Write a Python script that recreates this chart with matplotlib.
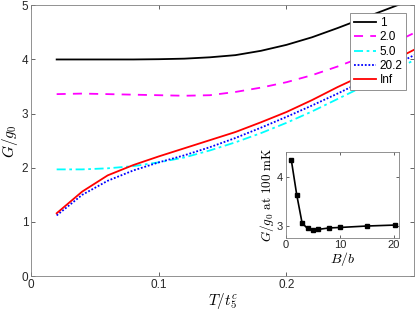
import numpy as np
import matplotlib
matplotlib.use("Agg")
import matplotlib.pyplot as plt

plt.rcParams['font.family'] = ['Liberation Sans', 'DejaVu Sans']
plt.rcParams['mathtext.fontset'] = 'cm'

# temperature grid T/t5c
T = [0.02, 0.04, 0.06, 0.08, 0.10, 0.12, 0.14, 0.16, 0.18, 0.20, 0.22, 0.24, 0.26, 0.28, 0.30]

# G/g0 for each B/b value
g_1 = [4.00, 4.00, 4.00, 4.00, 4.005, 4.015, 4.04, 4.08, 4.16, 4.27, 4.41, 4.58, 4.76, 4.94, 5.12]
g_2 = [3.36, 3.37, 3.36, 3.35, 3.34, 3.33, 3.34, 3.40, 3.48, 3.58, 3.71, 3.87, 4.05, 4.26, 4.49]
g_5 = [1.97, 1.97, 1.99, 2.03, 2.10, 2.19, 2.32, 2.47, 2.64, 2.83, 3.04, 3.27, 3.50, 3.74, 3.99]
g_20 = [1.12, 1.50, 1.76, 1.95, 2.10, 2.23, 2.38, 2.55, 2.74, 2.94, 3.15, 3.37, 3.60, 3.84, 4.08]
g_inf = [1.16, 1.56, 1.86, 2.05, 2.21, 2.36, 2.51, 2.66, 2.84, 3.03, 3.25, 3.49, 3.71, 3.94, 4.18]

labels = ['1', '2.0', '5.0', '20.2', 'Inf']

# inset: G/g0 at 100 mK vs B/b
Bb = [1, 2, 3, 4, 5, 6, 8, 10, 15, 20.2]
g100 = [4.36, 3.64, 3.05, 2.94, 2.91, 2.92, 2.95, 2.96, 2.99, 3.01]

edge = '#262626'

fig = plt.figure(figsize=(4.15, 3.13), dpi=100)
ax = fig.add_axes([0.075, 0.118, 0.923, 0.865])

lw = 1.3
ax.plot(T, g_1, color='black', lw=lw, label=labels[0])
ax.plot(T, g_2, color='#ff00ff', lw=lw, ls=(0, (5, 4)), label=labels[1])
ax.plot(T, g_5, color='#00ffff', lw=lw, ls=(0, (5, 2, 1.5, 2)), label=labels[2])
ax.plot(T, g_20, color='#0000ff', lw=lw, ls=(0, (1, 1)), label=labels[3])
ax.plot(T, g_inf, color='#ff0000', lw=lw, label=labels[4])

ax.set_xlim(0, 0.3)
ax.set_ylim(0, 5)
ax.set_xticks([0, 0.1, 0.2])
ax.set_xticklabels(['0', '0.1', '0.2'])
ax.set_yticks([0, 1, 2, 3, 4, 5])
ax.tick_params(direction='in', top=True, right=True, labelsize=8.5,
               colors=edge, length=3, width=0.5, pad=2)
for s in ax.spines.values():
    s.set_color('#808080')
    s.set_linewidth(0.6)
ax.set_xlabel(r'$T/t_5^c$', fontsize=11, labelpad=0)
ax.set_ylabel(r'$G/g_0$', fontsize=11, labelpad=1)

leg = ax.legend(loc='upper right', bbox_to_anchor=(0.979, 0.970), fontsize=8.5,
                handlelength=1.9, handletextpad=0.3, borderpad=0.3,
                borderaxespad=0, labelspacing=0.2, fancybox=False, framealpha=1)
leg.get_frame().set_edgecolor('#808080')
leg.get_frame().set_linewidth(0.6)

# inset
ins = fig.add_axes([0.689, 0.241, 0.273, 0.272])
ins.plot(Bb, g100, color='black', lw=1.2, marker='s', markersize=3.5,
         mfc='black', mec='black')
ins.set_xlim(0, 21)
ins.set_ylim(2.75, 4.52)
ins.set_xticks([0, 10, 20])
ins.set_yticks([3, 4])
ins.tick_params(direction='in', top=True, right=True, labelsize=8,
                colors=edge, length=2.5, width=0.5, pad=2)
for s in ins.spines.values():
    s.set_color('#808080')
    s.set_linewidth(0.6)
ins.set_xlabel(r'$B/b$', fontsize=10, labelpad=0)
ins.set_ylabel(r'$G/g_0\ \mathrm{at\ 100\ mK}$', fontsize=9.5, labelpad=1)

fig.savefig('out.png', dpi=100)
